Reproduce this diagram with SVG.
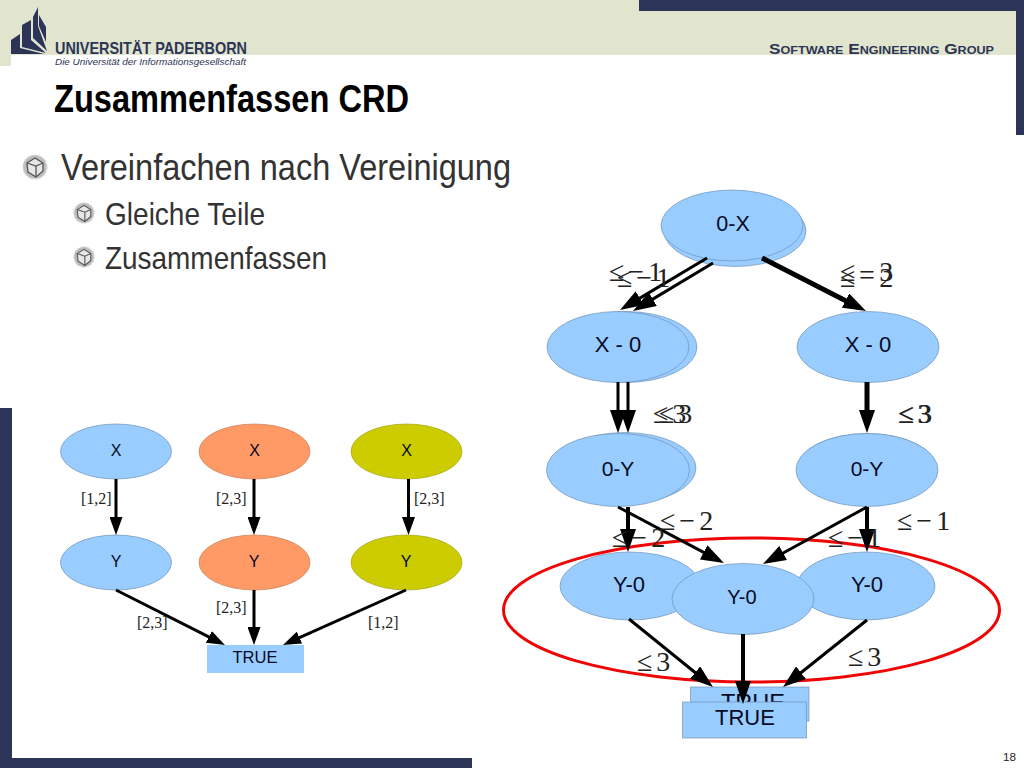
<svg xmlns="http://www.w3.org/2000/svg" width="1024" height="768" viewBox="0 0 1024 768">
<style>
.band{fill:#e1e5cd}
.dark{fill:#2c3557}
.n{stroke:#6f93b8;stroke-width:.7}
.blue{fill:#99ccff}
.org{fill:#ff9966;stroke:#c98058;stroke-width:.7}
.oli{fill:#cccc00;stroke:#a5a520;stroke-width:.7}
.s{font-family:"Liberation Sans",Arial,sans-serif;fill:#050a25;text-anchor:middle}
.m{font-family:"Liberation Serif","Times New Roman",serif;fill:#222}
.eq{font-size:28px;letter-spacing:4px}
.r{font-size:16px}
.body{font-family:"Liberation Sans",Arial,sans-serif;fill:#333}
.e{stroke:#000;fill:none}
.w3{stroke-width:3}
.w4{stroke-width:4}
.w5{stroke-width:5}
.sm{marker-end:url(#as)}
.lg{marker-end:url(#al)}
</style>
<defs>
<marker id="as" markerUnits="userSpaceOnUse" markerWidth="18" markerHeight="13" refX="11" refY="6.500" viewBox="0 0 18 13" orient="auto"><path d="M0 0L18 6.500L0 13z" fill="#000"/></marker>
<marker id="al" markerUnits="userSpaceOnUse" markerWidth="23" markerHeight="16" refX="15" refY="8" viewBox="0 0 23 16" orient="auto"><path d="M0 0L23 8L0 16z" fill="#000"/></marker>
<g id="cube">
<circle r="12" fill="#bdbdbd"/>
<circle r="12" fill="none" stroke="#dcdcdc" stroke-width="1.5" stroke-dasharray="2 2"/>
<path d="M-8-4L0-9L8-4L8 4L1 10L-7 5z" fill="#e6e6e6" stroke="#555" stroke-width="1.3"/>
<path d="M-8-4L1-1L8-4M1-1L1 10" fill="none" stroke="#555" stroke-width="1.3"/>
</g>
</defs>
<rect width="1024" height="768" fill="#fff"/>
<g id="frame">
<rect class="band" x="0" y="0" width="1016" height="55"/>
<rect class="band" x="0" y="55" width="11" height="11"/>
<rect class="dark" x="639" y="0" width="385" height="11"/>
<rect class="dark" x="1016" y="0" width="8" height="135"/>
<rect class="dark" x="0" y="408" width="12" height="360"/>
<rect class="dark" x="0" y="758" width="472" height="10"/>
</g>
<g id="logo">
<path class="dark" d="M11 40L20 34L20 48L44 54L11 54z"/>
<path class="dark" d="M22 25L31 20L31 40L46 53L22 47z"/>
<path class="dark" d="M33 17L38 7L38 26L47 51L33 38z"/>
<path class="dark" d="M39 15L46 27L46 42L39 26z"/>
<text x="55" y="54" font-family="'Liberation Sans',sans-serif" font-weight="700" font-size="16.500" fill="#2c3557" textLength="192" lengthAdjust="spacingAndGlyphs">UNIVERSITÄT PADERBORN</text>
<text x="55" y="65" font-family="'Liberation Sans',sans-serif" font-style="italic" font-size="9" fill="#2c3557" textLength="191" lengthAdjust="spacingAndGlyphs">Die Universität der Informationsgesellschaft</text>
<text x="769" y="54" font-family="'Liberation Sans',sans-serif" font-weight="700" font-size="15" fill="#2c3557" style="font-variant:small-caps" textLength="225" lengthAdjust="spacingAndGlyphs">Software Engineering Group</text>
</g>
<g id="slide-text">
<text x="54" y="112" font-family="'Liberation Sans',sans-serif" font-weight="700" font-size="38" fill="#000" textLength="355" lengthAdjust="spacingAndGlyphs">Zusammenfassen CRD</text>
<use href="#cube" x="35" y="167"/>
<text class="body" x="61" y="180" font-size="37" textLength="450" lengthAdjust="spacingAndGlyphs">Vereinfachen nach Vereinigung</text>
<use href="#cube" x="84" y="213" transform="translate(84 213) scale(.85) translate(-84 -213)"/>
<text class="body" x="105" y="225" font-size="32" textLength="160" lengthAdjust="spacingAndGlyphs">Gleiche Teile</text>
<use href="#cube" x="84" y="257" transform="translate(84 257) scale(.85) translate(-84 -257)"/>
<text class="body" x="105" y="269" font-size="32" textLength="222" lengthAdjust="spacingAndGlyphs">Zusammenfassen</text>
<text x="1016" y="761" font-family="'Liberation Sans',sans-serif" font-size="11" fill="#222" text-anchor="end" textLength="13" lengthAdjust="spacingAndGlyphs">18</text>
</g>
<g id="left-nodes">
<g id="l-x1"><ellipse class="blue n" cx="116" cy="451.500" rx="55.500" ry="27.500"/><text class="s" x="116" y="456" font-size="16">X</text></g>
<g id="l-x2"><ellipse class="org" cx="254.500" cy="451.500" rx="55.500" ry="27.500"/><text class="s" x="254.500" y="456" font-size="16">X</text></g>
<g id="l-x3"><ellipse class="oli" cx="406.500" cy="451.500" rx="55.500" ry="27.500"/><text class="s" x="406.500" y="456" font-size="16">X</text></g>
<g id="l-y1"><ellipse class="blue n" cx="116" cy="562.500" rx="55.500" ry="27.500"/><text class="s" x="116" y="567" font-size="16">Y</text></g>
<g id="l-y2"><ellipse class="org" cx="254.500" cy="562.500" rx="55.500" ry="27.500"/><text class="s" x="254" y="567" font-size="16">Y</text></g>
<g id="l-y3"><ellipse class="oli" cx="406.500" cy="562.500" rx="55.500" ry="27.500"/><text class="s" x="406" y="567" font-size="16">Y</text></g>
<g id="l-true"><rect class="blue" x="207" y="645" width="97" height="28"/><text class="s" x="255" y="663" font-size="16.500">TRUE</text></g>
</g>
<g id="right-nodes">
<g id="r-0x"><ellipse class="blue n" cx="735" cy="231" rx="71" ry="35.500"/><ellipse class="blue n" cx="732" cy="225.500" rx="71" ry="35.500"/><text class="s" x="733" y="231" font-size="21.500">0-X</text></g>
<g id="r-x0a"><ellipse class="blue n" cx="626" cy="347" rx="71" ry="35.500"/><ellipse class="blue n" cx="618" cy="347" rx="71" ry="35.500"/><text class="s" x="618" y="352" font-size="22">X - 0</text></g>
<g id="r-x0b"><ellipse class="blue n" cx="868" cy="347" rx="71" ry="35.500"/><text class="s" x="868" y="352" font-size="22">X - 0</text></g>
<g id="r-0ya"><ellipse class="blue n" cx="625" cy="468" rx="71" ry="35.500"/><ellipse class="blue n" cx="618" cy="470" rx="71.500" ry="36.500"/><text class="s" x="618" y="476" font-size="21">0-Y</text></g>
<g id="r-0yb"><ellipse class="blue n" cx="867" cy="469" rx="70" ry="35.500"/><ellipse class="blue n" cx="867" cy="470" rx="71" ry="36.500"/><text class="s" x="867" y="476" font-size="21">0-Y</text></g>
<g id="r-y0a"><ellipse class="blue n" cx="630" cy="586" rx="70" ry="34"/><text class="s" x="629" y="592" font-size="22">Y-0</text></g>
<g id="r-y0c"><ellipse class="blue n" cx="866" cy="586" rx="69" ry="34"/><text class="s" x="867" y="592" font-size="22">Y-0</text></g>
<g id="r-y0b"><ellipse class="blue n" cx="743" cy="599" rx="71" ry="35.500"/><text class="s" x="742" y="604" font-size="20">Y-0</text></g>
<g id="r-true"><rect class="blue n" x="690.500" y="687" width="118.500" height="34"/><text class="s" x="753" y="711" font-size="23.500">TRUE</text><rect class="blue n" x="682.500" y="702" width="124" height="36"/><text class="s" x="745" y="725" font-size="22">TRUE</text></g>
</g>
<ellipse id="highlight" cx="751.500" cy="610" rx="248" ry="72" fill="none" stroke="#ee0505" stroke-width="3"/>
<g id="connectors">
<path class="e w3 sm" d="M116 479V528"/>
<path class="e w3 sm" d="M254 479V528"/>
<path class="e w3 sm" d="M408.500 479V528"/>
<path class="e w3 sm" d="M116 590L218.700 641.800"/>
<path class="e w3 sm" d="M254 590V638"/>
<path class="e w3 sm" d="M406 590L289.400 642.100"/>
<path class="e w3 lg" d="M707 258L626.900 305.900"/>
<path class="e w3 lg" d="M713 263L639.900 306.900"/>
<path class="e w5 lg" d="M762 258L858.900 307.400"/>
<path class="e w3 lg" d="M618 382V425"/>
<path class="e w3 lg" d="M628 382V425"/>
<path class="e w5 lg" d="M867 382V425"/>
<path class="e w4 lg" d="M628 507V544"/>
<path class="e w3 lg" d="M618 507L716.900 559.300"/>
<path class="e w3 lg" d="M867 507L770 560.200"/>
<path class="e w4 lg" d="M867 507V544"/>
<path class="e w3 lg" d="M629 619L706.800 682"/>
<path class="e w4 lg" d="M743 634V696"/>
<path class="e w3 lg" d="M867 620L789.300 682"/>
</g>
<g id="labels">
<text class="m r" x="81" y="504">[1,2]</text>
<text class="m r" x="216" y="504">[2,3]</text>
<text class="m r" x="414" y="504">[2,3]</text>
<text class="m r" x="216" y="613">[2,3]</text>
<text class="m r" x="137" y="628">[2,3]</text>
<text class="m r" x="368" y="628">[1,2]</text>
<text class="m eq" x="609" y="281">≤−1</text>
<text class="m eq" x="617" y="287">≤−1</text>
<text class="m eq" x="840" y="281">≤−3</text>
<text class="m eq" x="840" y="287">≤−2</text>
<text class="m eq" x="653" y="423">≤3</text>
<text class="m eq" x="659" y="423">≤3</text>
<text class="m eq" x="898" y="423">≤3</text>
<text class="m eq" x="899" y="423">≤3</text>
<text class="m eq" x="660" y="530">≤−2</text>
<text class="m eq" x="612" y="547">≤−2</text>
<text class="m eq" x="897" y="530">≤−1</text>
<text class="m eq" x="828" y="547">≤−1</text>
<text class="m eq" x="637" y="671">≤3</text>
<text class="m eq" x="848" y="666">≤3</text>
</g>
</svg>
